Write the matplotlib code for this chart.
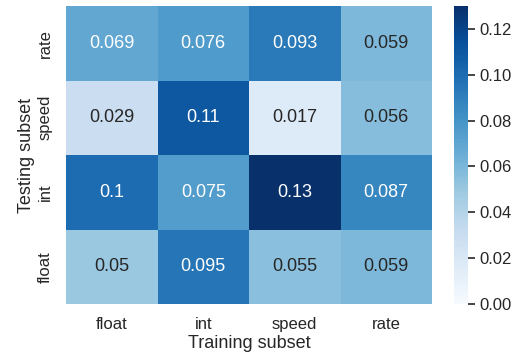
import matplotlib
matplotlib.use("Agg")
import matplotlib.pyplot as plt
import numpy as np
import seaborn as sns

TRAIN_LABELS = ["float", "int", "speed", "rate"]
TEST_LABELS = ["rate", "speed", "int", "float"]

ROW_RATE = [0.069, 0.076, 0.093, 0.059]
ROW_SPEED = [0.029, 0.11, 0.017, 0.056]
ROW_INT = [0.1, 0.075, 0.13, 0.087]
ROW_FLOAT = [0.05, 0.095, 0.055, 0.059]


def main():
    sns.set_theme(style="white")
    plt.rcParams["font.family"] = ["Liberation Sans", "DejaVu Sans"]

    scores = np.array([ROW_RATE, ROW_SPEED, ROW_INT, ROW_FLOAT])

    fig = plt.figure(figsize=(5.18, 3.58), dpi=100)
    ax = fig.add_axes([66 / 518, 1 - 304 / 358, 366 / 518, 298 / 358])
    cax = fig.add_axes([454 / 518, 1 - 304 / 358, 14 / 518, 298 / 358])

    sns.heatmap(
        scores,
        ax=ax,
        cbar_ax=cax,
        cmap="Blues",
        vmin=0,
        annot=True,
        fmt=".2g",
        annot_kws={"fontsize": 13},
        xticklabels=TRAIN_LABELS,
        yticklabels=TEST_LABELS,
    )
    ax.set_xlabel("Training subset", fontsize=13, labelpad=2)
    ax.set_ylabel("Testing subset", fontsize=13, labelpad=2)
    ax.tick_params(axis="both", labelsize=12, length=0, pad=9.5)
    plt.setp(ax.get_yticklabels(), rotation=90, va="center")
    cax.tick_params(labelsize=12, length=5, width=1.2, color="#262626")

    fig.savefig("out.png", dpi=100)
    plt.close(fig)


if __name__ == "__main__":
    main()
